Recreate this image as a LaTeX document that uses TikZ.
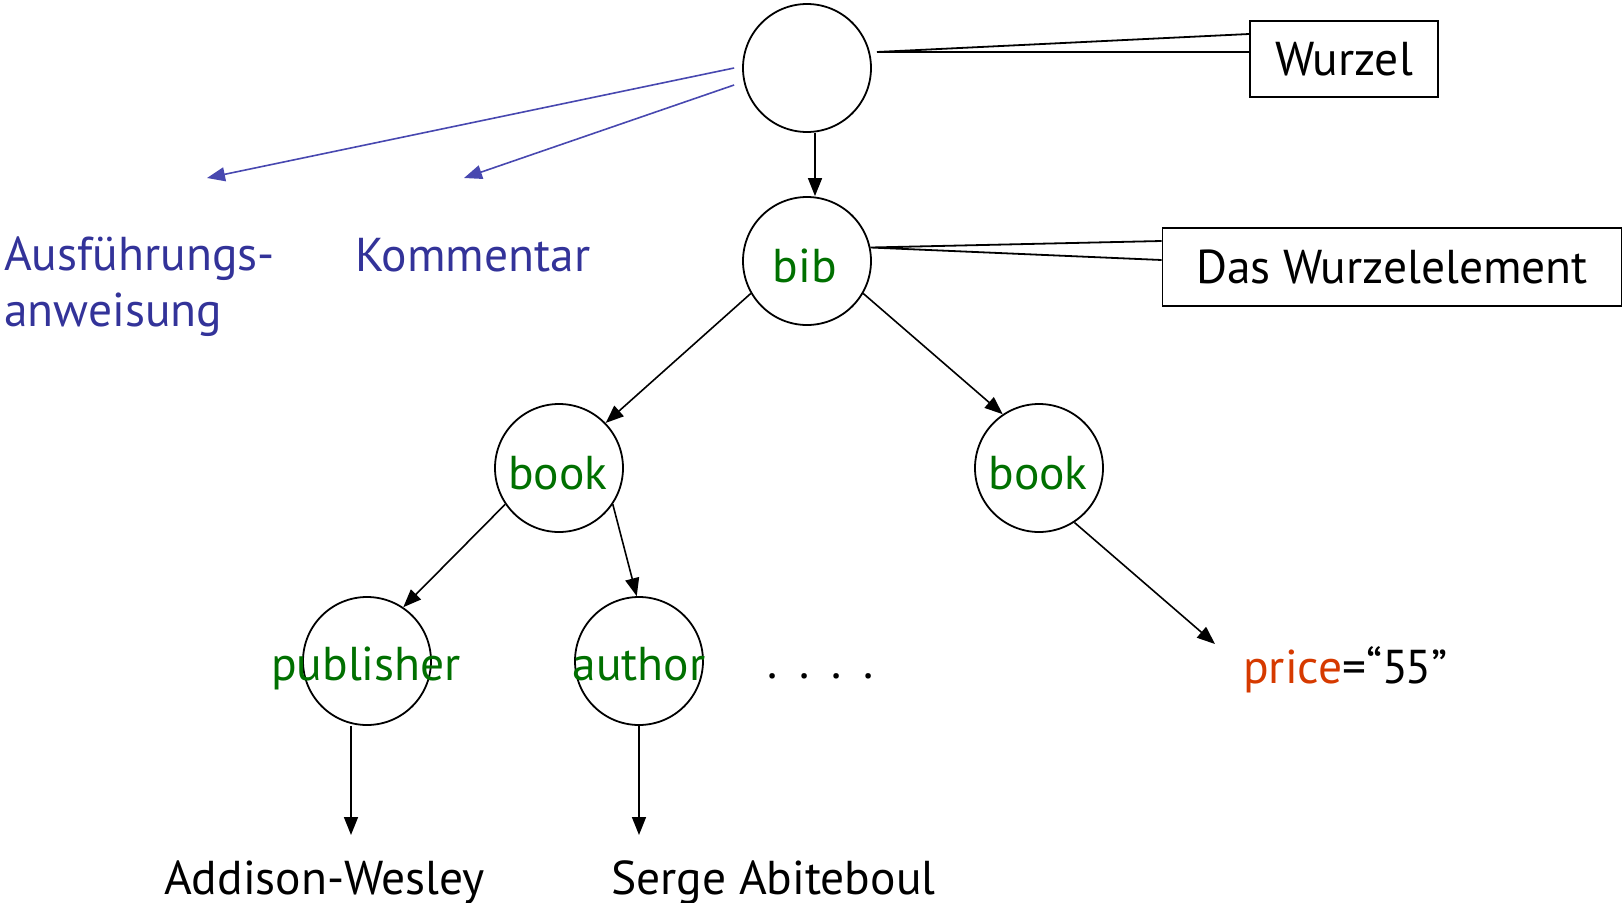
\documentclass[tikz,border=0pt]{standalone}
\usepackage{fontspec}
\setmainfont{PT Sans}
\usetikzlibrary{arrows.meta,calc}
\definecolor{tagGreen}{RGB}{0,112,0}
\definecolor{piBlue}{RGB}{51,51,153}
\definecolor{linkBlue}{RGB}{72,72,176}
\definecolor{attrRed}{RGB}{214,58,0}
\begin{document}
\begin{tikzpicture}[x=1pt,y=-1pt,
  every node/.style={font=\fontsize{47.5}{56}\selectfont, inner sep=0pt},
  elem/.style={circle, draw, line width=1.8pt, minimum size=128pt},
  tagtext/.style={text=tagGreen, anchor=base},
  leaftext/.style={text=black, anchor=base west},
  notebox/.style={draw, line width=1.8pt, rectangle},
  treearrow/.style={line width=1.6pt, -{Triangle[length=18pt,width=14pt]}},
  pilink/.style={draw=linkBlue, line width=1.6pt, -{Triangle[length=18pt,width=14pt]}},
  callout/.style={line width=1.8pt, line join=miter}
]
\useasboundingbox (0,0) rectangle (1624,902);

% element nodes of the document tree
\node[elem] (root)  at (807,68)   {};
\node[elem] (bib)   at (807,261)  {};
\node[elem] (bookL) at (559,468)  {};
\node[elem] (bookR) at (1039,468) {};
\node[elem] (pub)   at (367,661)  {};
\node[elem] (auth)  at (639,661)  {};

% element names
\node[tagtext] (bibT)   at (805,282)  {bib};
\node[tagtext] (bookLT) at (558,489)  {book};
\node[tagtext] (bookRT) at (1038,489) {book};
\node[tagtext] (pubT)   at (366,680)  {publisher};
\node[tagtext] (authT)  at (639,680)  {author};

% leaves, attribute and continuation
\node[leaftext] (dots)  at (767,678)  {.\hspace{22pt}.\hspace{22pt}.\hspace{22pt}.};
\node[leaftext] (price) at (1243,683) {\textcolor{attrRed}{price}=“5\kern-3pt5”};
\node[leaftext] (aw)    at (164,894)  {Addison-Wesley};
\node[leaftext] (sa)    at (611,894)  {Serge Abiteboul};

% processing instruction and comment
\node[leaftext, text=piBlue] (pi1) at (4,270)   {Ausführungs-};
\node[leaftext, text=piBlue] (pi2) at (4,326)   {anweisung};
\node[leaftext, text=piBlue] (com) at (355,271) {Kommentar};

% annotation boxes
\node[notebox, minimum width=188pt, minimum height=76pt] (wbox) at (1344,59)  {Wurzel};
\node[notebox, minimum width=459pt, minimum height=78pt] (dbox) at (1392,267) {Das Wurzelelement};

% callout wedges
\draw[callout] ([yshift=25pt]wbox.west) -- ($(root.center)+(70,-16)$) -- ([yshift=7pt]wbox.west);
\draw[callout] ([yshift=26pt]dbox.west) -- (bib.12) -- ([yshift=7pt]dbox.west);

% free arrow ends
\coordinate (pitip)    at (207,178);
\coordinate (comtip)   at (464,178);
\coordinate (pricetip) at (1215,644);
\coordinate (awtip)    at (351,835);
\coordinate (satip)    at (639,835);

% tree edges
\draw[treearrow] ([xshift=8pt]root.south) -- ([xshift=8pt]bib.north);
\draw[treearrow] (bib.210) -- (bookL.44);
\draw[treearrow] (bib.-30) -- (bookR.124);
\draw[treearrow] (bookL.214) -- (pub.56);
\draw[treearrow] (bookL.-34) -- (auth.92);
\draw[treearrow] (bookR.-57) -- (pricetip);
\draw[treearrow] ([xshift=-16pt]pub.south) -- (awtip);
\draw[treearrow] (auth.south) -- (satip);

% links to the processing instruction and the comment
\draw[pilink] ([xshift=-8pt]root.west) -- (pitip);
\draw[pilink] ($(root.west)+(-8,17)$) -- (comtip);
\end{tikzpicture}
\end{document}
